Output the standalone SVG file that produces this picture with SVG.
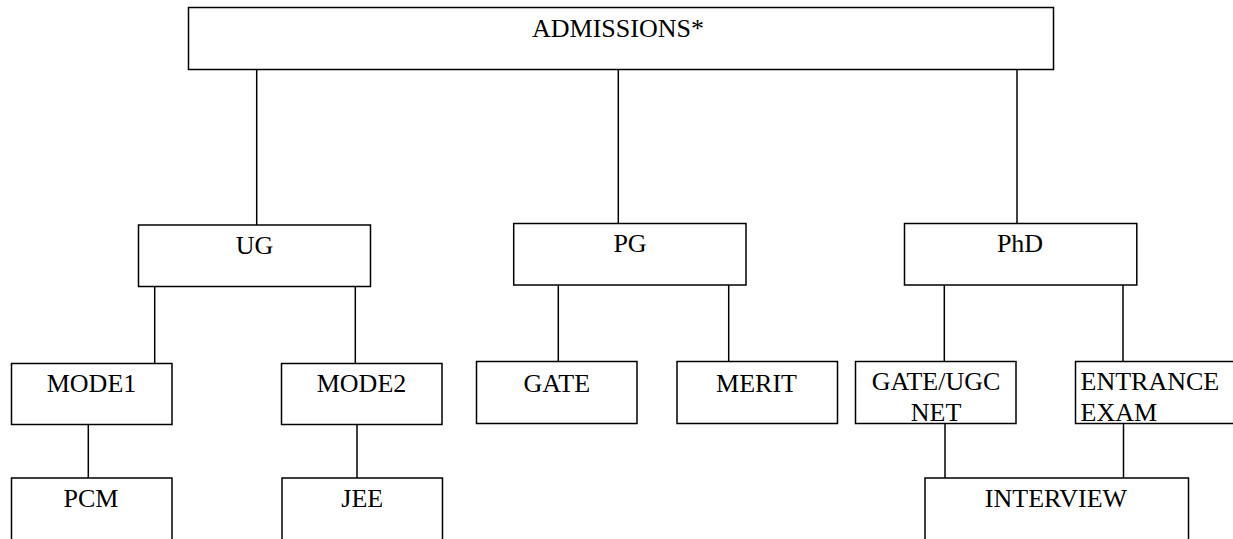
<svg xmlns="http://www.w3.org/2000/svg" width="1233" height="539" viewBox="0 0 1233 539">
<style>
rect.box{fill:#ffffff;stroke:#000000;stroke-width:1.5}
.lbl{font-family:"Liberation Serif","Times New Roman",serif;font-size:26px;fill:#000000}
.c{text-anchor:middle}
#connectors line{stroke:#000000;stroke-width:1.5}
</style>
<rect x="0" y="0" width="1233" height="539" fill="#ffffff"/>
<g id="connectors">
<line x1="256.7" y1="69.5" x2="256.7" y2="225"/>
<line x1="618.3" y1="69.5" x2="618.3" y2="223.5"/>
<line x1="1017" y1="69.5" x2="1017" y2="223.5"/>
<line x1="154.7" y1="286.5" x2="154.7" y2="363.5"/>
<line x1="355.3" y1="286.5" x2="355.3" y2="363.5"/>
<line x1="558.3" y1="285" x2="558.3" y2="361.5"/>
<line x1="728.7" y1="285" x2="728.7" y2="361.5"/>
<line x1="944.3" y1="285" x2="944.3" y2="361.5"/>
<line x1="1123" y1="285" x2="1123" y2="361.5"/>
<line x1="88.3" y1="424.5" x2="88.3" y2="478"/>
<line x1="357" y1="424.5" x2="357" y2="478"/>
<line x1="945" y1="423.5" x2="945" y2="478"/>
<line x1="1123.5" y1="423.5" x2="1123.5" y2="478"/>
</g>
<g id="admissions"><rect class="box" x="188.5" y="7.5" width="865" height="62"/><text class="lbl c" x="618" y="37.3">ADMISSIONS*</text></g>
<g id="ug"><rect class="box" x="138.5" y="225" width="232" height="61.5"/><text class="lbl c" x="254.5" y="253.7">UG</text></g>
<g id="pg"><rect class="box" x="513.7" y="223.5" width="232.3" height="61.5"/><text class="lbl c" x="630" y="252.3">PG</text></g>
<g id="phd"><rect class="box" x="904.5" y="223.5" width="232.3" height="61.5"/><text class="lbl c" x="1020" y="252.3">PhD</text></g>
<g id="mode1"><rect class="box" x="11.5" y="363.5" width="160.5" height="61"/><text class="lbl c" x="91.5" y="392.3">MODE1</text></g>
<g id="mode2"><rect class="box" x="281.5" y="363.5" width="160.5" height="61"/><text class="lbl c" x="361.5" y="392.3">MODE2</text></g>
<g id="gate"><rect class="box" x="476.5" y="361.5" width="160.5" height="62"/><text class="lbl c" x="556.8" y="391.7">GATE</text></g>
<g id="merit"><rect class="box" x="677" y="361.5" width="160.5" height="62"/><text class="lbl c" x="756.5" y="391.7">MERIT</text></g>
<g id="gateugc"><rect class="box" x="855.5" y="361.5" width="160.5" height="62"/><text class="lbl c" x="936" y="390">GATE/UGC</text><text class="lbl c" x="936" y="421">NET</text></g>
<g id="entrance"><rect class="box" x="1075.5" y="361.5" width="170" height="62"/><text class="lbl" x="1080.5" y="390">ENTRANCE</text><text class="lbl" x="1080.5" y="421">EXAM</text></g>
<g id="pcm"><rect class="box" x="11.5" y="478" width="160.5" height="80"/><text class="lbl c" x="91" y="507.3">PCM</text></g>
<g id="jee"><rect class="box" x="282" y="478" width="160.5" height="80"/><text class="lbl c" x="362.3" y="507.3">JEE</text></g>
<g id="interview"><rect class="box" x="925" y="478" width="263.5" height="80"/><text class="lbl c" x="1056" y="506.7">INTERVIEW</text></g>
</svg>
